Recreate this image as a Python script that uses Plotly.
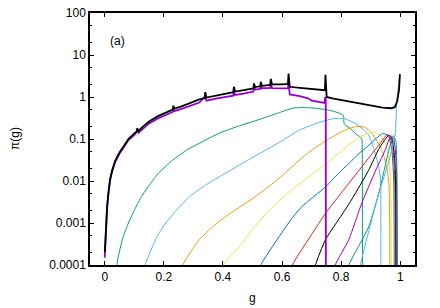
import plotly.graph_objects as go

# ---------------- data ----------------
total_g = [0.0, 0.004, 0.008, 0.012, 0.018, 0.025, 0.035, 0.05, 0.065, 0.08, 0.1, 0.108, 0.11, 0.114,
           0.13, 0.15, 0.18, 0.21, 0.23, 0.232, 0.236, 0.26, 0.29, 0.32, 0.338, 0.34, 0.344, 0.38, 0.41,
           0.435, 0.437, 0.441, 0.47, 0.49, 0.503, 0.505, 0.509, 0.526, 0.528, 0.532, 0.56, 0.562, 0.566,
           0.6, 0.62, 0.622, 0.626, 0.66, 0.7, 0.745, 0.747, 0.751, 0.77, 0.8, 0.85, 0.9, 0.94, 0.97,
           0.982, 0.99, 0.996, 0.999]
total_v = [0.0002, 0.0008, 0.0025, 0.005, 0.011, 0.018, 0.03, 0.048, 0.07, 0.1, 0.135, 0.15, 0.18, 0.155,
           0.2, 0.26, 0.35, 0.44, 0.5, 0.62, 0.53, 0.6, 0.72, 0.88, 0.93, 1.3, 0.97, 1.1, 1.2,
           1.3, 1.75, 1.35, 1.45, 1.55, 1.6, 2.1, 1.72, 1.8, 2.3, 1.85, 1.95, 2.7, 2.0,
           2.0, 2.05, 3.6, 1.75, 1.65, 1.55, 1.45, 3.4, 1.0, 0.93, 0.85, 0.75, 0.62, 0.56, 0.54,
           0.58, 0.8, 1.5, 3.5]

part_g = [0.0, 0.004, 0.008, 0.012, 0.018, 0.025, 0.035, 0.05, 0.065, 0.08, 0.1, 0.11, 0.114, 0.13,
          0.15, 0.18, 0.21, 0.23, 0.232, 0.236, 0.26, 0.29, 0.32, 0.34, 0.344, 0.38, 0.41, 0.435,
          0.437, 0.441, 0.47, 0.49, 0.503, 0.505, 0.509, 0.526, 0.528, 0.532, 0.56, 0.562, 0.566,
          0.6, 0.62, 0.622, 0.626, 0.66, 0.69, 0.7, 0.72, 0.744, 0.746, 0.748, 0.7485]
part_v = [0.00015, 0.0007, 0.0023, 0.0047, 0.0105, 0.017, 0.028, 0.045, 0.066, 0.094, 0.125, 0.16, 0.14, 0.18,
          0.235, 0.31, 0.39, 0.44, 0.52, 0.46, 0.52, 0.62, 0.74, 1.05, 0.82, 0.93, 1.0, 1.08,
          1.4, 1.12, 1.2, 1.3, 1.35, 1.8, 1.5, 1.55, 2.0, 1.62, 1.65, 2.3, 1.62,
          1.6, 1.6, 2.2, 1.15, 1.05, 0.92, 0.82, 0.76, 0.72, 1.0, 0.9, 1e-5]

teal1_g = [0.035, 0.045, 0.062, 0.08, 0.095, 0.12, 0.146, 0.18, 0.23, 0.28, 0.32, 0.388, 0.45, 0.522,
           0.58, 0.635, 0.66, 0.7, 0.758, 0.79, 0.808, 0.81, 0.83, 0.848, 0.87, 0.871, 0.872]
teal1_v = [5e-5, 0.00015, 0.00047, 0.001, 0.0017, 0.0038, 0.0072, 0.0148, 0.0316, 0.056, 0.079, 0.138,
           0.2, 0.29, 0.4, 0.54, 0.56, 0.55, 0.49, 0.42, 0.36, 0.23, 0.18, 0.137, 0.1, 0.09, 1e-5]

sky1_g = [0.13, 0.138, 0.152, 0.175, 0.206, 0.245, 0.286, 0.335, 0.388, 0.472, 0.546, 0.6, 0.657, 0.72,
          0.768, 0.79, 0.815, 0.85, 0.87, 0.893, 0.91, 0.927, 0.933, 0.934]
sky1_v = [5e-5, 0.00011, 0.00019, 0.00045, 0.001, 0.0021, 0.0042, 0.0075, 0.0126, 0.028, 0.055, 0.091,
          0.16, 0.24, 0.3, 0.31, 0.3, 0.23, 0.18, 0.125, 0.06, 0.022, 0.012, 1e-5]

orange1_g = [0.255, 0.264, 0.29, 0.32, 0.35, 0.388, 0.44, 0.5, 0.56, 0.612, 0.65, 0.69, 0.758, 0.815,
             0.853, 0.88, 0.904, 0.938, 0.955, 0.962, 0.965]
orange1_v = [5e-5, 0.0001, 0.0002, 0.0004, 0.00065, 0.0011, 0.002, 0.0038, 0.0079, 0.0158, 0.028, 0.048,
             0.1, 0.166, 0.2, 0.19, 0.137, 0.055, 0.02, 0.008, 1e-5]

yellow1_g = [0.395, 0.4, 0.455, 0.5, 0.556, 0.61, 0.668, 0.747, 0.79, 0.83, 0.87, 0.905, 0.92, 0.95,
             0.962, 0.968, 0.97]
yellow1_v = [5e-5, 0.0001, 0.00027, 0.0007, 0.002, 0.0045, 0.0095, 0.025, 0.045, 0.076, 0.12, 0.145,
             0.14, 0.079, 0.03, 0.008, 1e-5]

blue1_g = [0.52, 0.528, 0.59, 0.63, 0.668, 0.747, 0.79, 0.826, 0.86, 0.893, 0.92, 0.94, 0.96, 0.972,
           0.978, 0.98]
blue1_v = [5e-5, 0.0001, 0.00047, 0.0012, 0.0025, 0.0072, 0.015, 0.026, 0.045, 0.07, 0.105, 0.135, 0.12,
           0.05, 0.01, 1e-5]

red1_g = [0.625, 0.635, 0.702, 0.747, 0.826, 0.893, 0.93, 0.955, 0.965, 0.975, 0.982, 0.985]
red1_v = [5e-5, 0.0001, 0.00056, 0.0017, 0.0088, 0.035, 0.075, 0.125, 0.11, 0.06, 0.01, 1e-5]

black1_g = [0.705, 0.713, 0.747, 0.826, 0.893, 0.927, 0.95, 0.962, 0.972, 0.982, 0.987]
black1_v = [5e-5, 0.0001, 0.0004, 0.0028, 0.018, 0.057, 0.1, 0.125, 0.1, 0.03, 1e-5]

purple1_g = [0.772, 0.78, 0.826, 0.87, 0.92, 0.95, 0.968, 0.978, 0.986, 0.99]
purple1_v = [5e-5, 0.0001, 0.0004, 0.003, 0.02, 0.056, 0.12, 0.1, 0.03, 1e-5]

teal2_g = [0.818, 0.826, 0.893, 0.93, 0.96, 0.977, 0.985, 0.99]
teal2_v = [5e-5, 0.0001, 0.0008, 0.006, 0.05, 0.12, 0.09, 1e-5]

sky2_g = [0.86, 0.865, 0.927, 0.96, 0.983, 0.988, 0.997]
sky2_v = [5e-5, 0.0001, 0.005, 0.027, 0.13, 0.7, 3.0]

y_ticks = [1e-4, 1e-3, 1e-2, 1e-1, 1, 10, 100]
y_tick_text = ["0.0001", "0.001", "0.01", "0.1", "1", "10", "100"]
x_ticks = [0, 0.2, 0.4, 0.6, 0.8, 1]
x_tick_text = ["0", "0.2", "0.4", "0.6", "0.8", "1"]

# ---------------- figure ----------------
fig = go.Figure()

thin = [
    (teal1_g, teal1_v, "#009E73"),
    (sky1_g, sky1_v, "#56B4E9"),
    (orange1_g, orange1_v, "#E69F00"),
    (yellow1_g, yellow1_v, "#F0E442"),
    (blue1_g, blue1_v, "#0072B2"),
    (red1_g, red1_v, "#E51E10"),
    (black1_g, black1_v, "#000000"),
    (purple1_g, purple1_v, "#9400D3"),
    (teal2_g, teal2_v, "#009E73"),
    (sky2_g, sky2_v, "#56B4E9"),
]
for gx, vy, col in thin:
    fig.add_trace(go.Scatter(x=gx, y=vy, mode="lines",
                             line=dict(color=col, width=1, shape="spline", smoothing=0.5)))

fig.add_trace(go.Scatter(x=part_g, y=part_v, mode="lines", line=dict(color="#9400D3", width=1.8)))
fig.add_trace(go.Scatter(x=total_g, y=total_v, mode="lines", line=dict(color="#000000", width=1.8)))

axis_font = dict(family="Liberation Sans, Arial, sans-serif", size=12, color="black")

W, H = 440, 308
ML, MR, MT, MB = 90, 25, 13, 43
PW, PH = W - ML - MR, H - MT - MB

fig.update_layout(
    width=W, height=H,
    margin=dict(l=ML, r=MR, t=MT, b=MB),
    paper_bgcolor="white", plot_bgcolor="white",
    showlegend=False,
    font=axis_font,
)
fig.update_xaxes(
    range=[-0.05, 1.05], tickvals=x_ticks, ticktext=x_tick_text,
    ticks="inside", ticklen=4, tickcolor="black", mirror="ticks",
    showline=True, linecolor="black", linewidth=1.5, showgrid=False, zeroline=False,
    tickfont=axis_font, automargin=False,
)
fig.update_yaxes(
    type="log", range=[-4, 2], tickvals=y_ticks, ticktext=y_tick_text,
    ticks="inside", ticklen=4, tickcolor="black", mirror="ticks",
    showline=True, linecolor="black", linewidth=1.5, showgrid=False, zeroline=False,
    tickfont=axis_font, automargin=False,
    minor=dict(ticks="inside", ticklen=2, tickcolor="black", showgrid=False),
)

fig.add_annotation(text="π(g)", xref="paper", yref="paper", x=(15 - ML) / PW, y=0.5,
                   xanchor="center", yanchor="middle", textangle=-90, showarrow=False,
                   font=axis_font)
fig.add_annotation(text="g", xref="paper", yref="paper", x=(253 - ML) / PW, y=-(298 - 265) / PH,
                   xanchor="center", yanchor="middle", showarrow=False, font=axis_font)
fig.add_annotation(text="(a)", xref="x", yref="y", x=0.044, y=1.33,
                   xanchor="center", yanchor="middle", showarrow=False, font=axis_font)

fig.write_html("out.html", config={"displayModeBar": False},
               post_script="document.body.style.margin='0';")
